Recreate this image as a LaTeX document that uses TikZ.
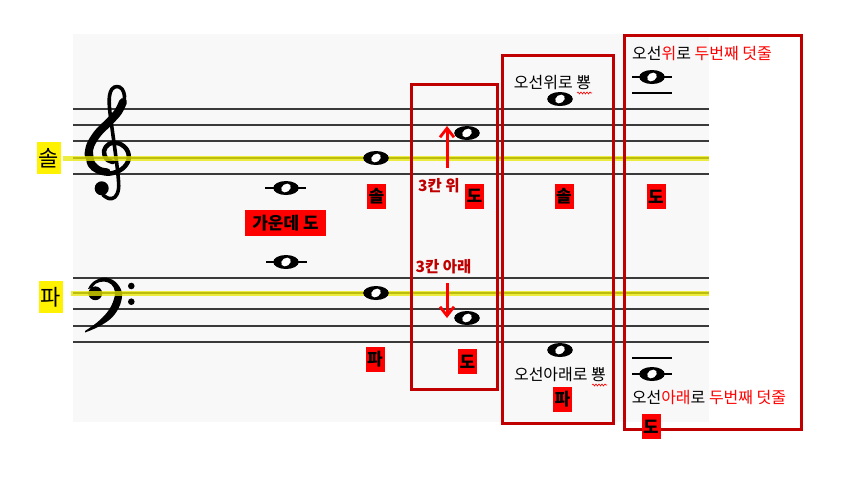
\documentclass[tikz,border=0pt]{standalone}
\usepackage{fontspec}
\setmainfont{Noto Sans CJK KR}
\usetikzlibrary{arrows.meta,decorations.pathmorphing}
\definecolor{bggrey}{HTML}{F8F8F8}
\definecolor{staffc}{HTML}{3A3A3A}
\definecolor{framec}{HTML}{C00000}
\definecolor{hlyellow}{HTML}{E8E800}
\tikzset{
  staffline/.style={draw=staffc, line width=2.2pt},
  hl/.style={draw=hlyellow, line width=5pt, opacity=0.75},
  ledger/.style={draw=black, line width=2.5pt},
  frame/.style={draw=framec, line width=3pt, inner sep=0pt, fill=none},
  redlab/.style={fill=red, text=black, inner sep=0pt, minimum width=19pt, minimum height=25pt,
     font=\bfseries\fontsize{17}{17}\selectfont},
  yellab/.style={fill=yellow, text=black, inner sep=0pt, minimum width=24pt, minimum height=32pt,
     font=\fontsize{22}{22}\selectfont},
  clefline/.style={draw=black, line cap=round, line join=round},
  arr/.style={draw=red, line width=3pt, -{Straight Barb[length=9pt,width=14pt,line width=2.8pt]}},
  darktxt/.style={text=framec, font=\bfseries\fontsize{15.5}{15.5}\selectfont, inner sep=0pt},
  small/.style={text=black, font=\fontsize{16}{16}\selectfont, inner sep=0pt},
  wavy/.style={draw=red, line width=0.6pt, decorate, decoration={snake, amplitude=1pt, segment length=3pt}},
  wnote/.pic={\fill[black] (0,0) ellipse (12.8 and 7); \fill[white, rotate=35] (0,0) ellipse (5.2 and 3.9);}
}
\begin{document}
\begin{tikzpicture}[x=1pt,y=-1pt]
\useasboundingbox (0,0) rectangle (847,488);
\fill[white] (0,0) rectangle (847,488);
\fill[bggrey] (73,34) rectangle (709,422);
% staff lines
\foreach \y in {109,125,141,158,174,278,293,309,326,342}
  \draw[staffline] (73,\y) -- (709,\y);
% treble clef
\coordinate (gclef) at (108,143);
\fill (101.7,188.3) circle (7);
\draw[clefline, line width=3.6pt] plot[smooth, tension=0.6] coordinates {(103,195) (109,198.5) (115,197) (118.5,189) (118,175) (115,150) (112,128) (109.5,108) (109.5,96) (112,89) (117,86.5) (122,89) (124.5,96) (123,104) (118,112)};
\draw[clefline, line width=8pt] plot[smooth, tension=0.6] coordinates {(123,102) (118,112) (109,122) (98,133) (90.5,145) (88.5,155)};
\draw[clefline, line width=4.5pt] plot[smooth, tension=0.6] coordinates {(88,155) (90,165) (98,171.5) (110,173.5) (122,169) (128.5,160) (127,150) (119,143.5) (109,144) (104,151) (106.5,159) (113,162)};
\draw[clefline, line width=7pt] plot[smooth, tension=0.6] coordinates {(89.5,152) (91.5,163) (99,170) (107,171.8)};
% bass clef
\coordinate (fclef) at (110,305);
\fill (95.3,293.3) circle (6.9);
\fill plot[smooth, tension=0.6] coordinates {(88,289) (93,282) (104,277.5) (115,281.5) (121.8,292) (120,305) (112,317.5) (99,326.5) (85,332.5)}
   -- plot[smooth, tension=0.6] coordinates {(85,331) (97,322.5) (107,312.5) (113,302) (115,292) (111.5,284.5) (104,281.5) (96,283.5) (92,288)} -- cycle;
\fill (131.3,286) circle (3.3);
\fill (131.3,301.7) circle (3.3);
% highlight lines
\draw[hl] (63,158) -- (709,158);
\draw[hl] (71,293) -- (709,293);
% ledger lines
\draw[ledger] (265,188) -- (306,188);
\draw[ledger] (266,262) -- (307,262);
\draw[ledger] (632,77) -- (672,77);
\draw[ledger] (632,93) -- (672,93);
\draw[ledger] (632,358) -- (672,358);
\draw[ledger] (632,374) -- (672,374);
% notes
\pic at (286,188) {wnote}; \coordinate (n1) at (286,188);
\pic at (376,158) {wnote}; \coordinate (n2) at (376,158);
\pic at (286,262) {wnote}; \coordinate (n3) at (286,262);
\pic at (376,293) {wnote}; \coordinate (n4) at (376,293);
\pic at (467,133) {wnote}; \coordinate (n5) at (467,133);
\pic at (467,318) {wnote}; \coordinate (n6) at (467,318);
\pic at (560,99) {wnote}; \coordinate (n7) at (560,99);
\pic at (560,350) {wnote}; \coordinate (n8) at (560,350);
\pic at (652,77) {wnote}; \coordinate (n9) at (652,77);
\pic at (652,374) {wnote}; \coordinate (n10) at (652,374);
% frames
\draw[frame] (411,84) rectangle (497,389);
\draw[frame] (502,55) rectangle (613,423);
\draw[frame] (624,35) rectangle (801,429);
% yellow labels
\node[yellab] (ysol) at (49,158) {솔};
\node[yellab] (ypa) at (51,297) {파};
% red labels
\node[redlab] (lsol1) at (376.5,196.5) {솔};
\node[redlab, minimum width=81pt, minimum height=26pt] (lmid) at (285.5,223) {가운데 도};
\node[redlab] (lpa1) at (375,359.5) {파};
\node[redlab] (ldo1) at (474.5,196) {도};
\node[redlab] (ldo2) at (467.5,361.5) {도};
\node[redlab] (lsol2) at (564,196.5) {솔};
\node[redlab] (lpa2) at (562.5,399.5) {파};
\node[redlab] (ldo3) at (656,196.5) {도};
\node[redlab] (ldo4) at (651,426.5) {도};
% arrows
\coordinate (upS) at (447,168); \coordinate (upE) at (447,126);
\coordinate (dnS) at (447,283); \coordinate (dnE) at (447,318);
\draw[arr] (upS) -- (upE);
\draw[arr] (dnS) -- (dnE);
% texts
\node[darktxt] (t3up) at (439,186) {3칸 위};
\node[darktxt] (t3dn) at (443.5,267) {3칸 아래};
\node[small] (tup1) at (552.5,83) {오선위로 뿅};
\node[small] (tdn1) at (560,375) {오선아래로 뿅};
\node[small] (tup2) at (702,54) {오선\textcolor{red}{위}로 \textcolor{red}{두번째 덧줄}};
\node[small] (tdn2) at (709,398) {오선\textcolor{red}{아래}로 \textcolor{red}{두번째 덧줄}};
\draw[wavy] (577,93) -- (592,93);
\draw[wavy] (592,385) -- (607,385);
\end{tikzpicture}
\end{document}
